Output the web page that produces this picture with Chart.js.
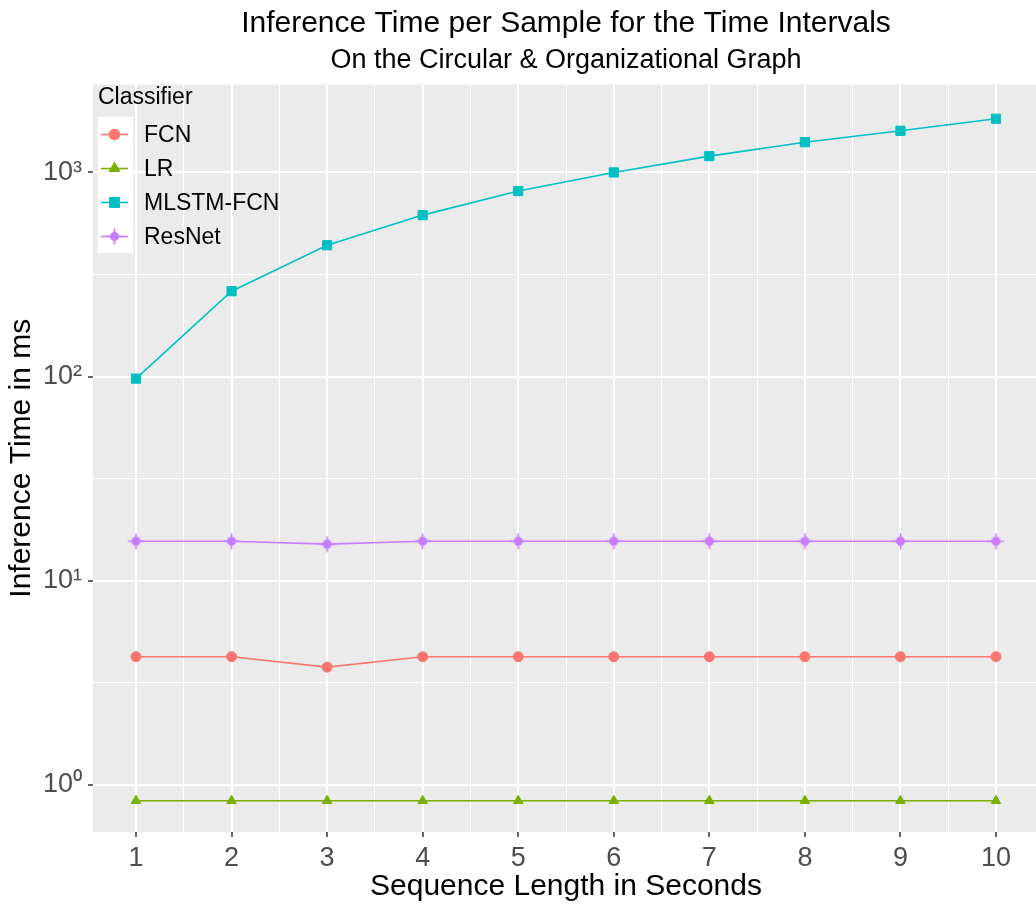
<!DOCTYPE html>
<html>
<head>
<meta charset="utf-8">
<script src="https://cdn.jsdelivr.net/npm/chart.js@4"></script>
<style>
  html, body { margin: 0; padding: 0; background: #fff; overflow: hidden; }
  #wrap { width: 1050px; height: 908px; }
</style>
</head>
<body>
<div id="wrap"><canvas id="timeChart" width="1050" height="908"></canvas></div>
<script>
// values (log scale, ms)
const seconds = [1, 2, 3, 4, 5, 6, 7, 8, 9, 10];
const fcn = [4.24, 4.24, 3.77, 4.24, 4.24, 4.24, 4.24, 4.24, 4.24, 4.24];
const lr = [0.835, 0.835, 0.835, 0.835, 0.835, 0.835, 0.835, 0.835, 0.835, 0.835];
const mlstmFcn = [97.7, 262, 440, 618, 811, 1000, 1202, 1407, 1600, 1833];
const resnet = [15.6, 15.6, 15.1, 15.6, 15.6, 15.6, 15.6, 15.6, 15.6, 15.6];

const xTicks = [1, 1.5, 2, 2.5, 3, 3.5, 4, 4.5, 5, 5.5, 6, 6.5, 7, 7.5, 8, 8.5, 9, 9.5, 10];
const yTicks = [1, 3.1623, 10, 31.623, 100, 316.23, 1000];
const supers = { 0: '\u2070', 1: '\u00B9', 2: '\u00B2', 3: '\u00B3' };

// ResNet marker: filled dot with a cross through it
function plusDot(color) {
    const c = document.createElement('canvas');
    c.width = 19; c.height = 19;
    const g = c.getContext('2d');
    g.fillStyle = color;
    g.beginPath();
    g.arc(9.5, 9.5, 4.5, 0, Math.PI * 2);
    g.fill();
    g.strokeStyle = color;
    g.lineWidth = 1.6;
    g.beginPath();
    g.moveTo(9.5, 1.5); g.lineTo(9.5, 17.5);
    g.moveTo(1.5, 9.5); g.lineTo(17.5, 9.5);
    g.stroke();
    return c;
}

const isMajorX = v => Number.isInteger(v);
const isMajorY = v => Math.abs(Math.log10(v) - Math.round(Math.log10(v))) < 1e-6;

function series(label, data, color, style, radius) {
    return {
        label: label,
        data: data.map((v, i) => ({ x: seconds[i], y: v })),
        borderColor: color,
        backgroundColor: color,
        borderWidth: 1.6,
        pointStyle: style,
        pointRadius: radius,
        pointHoverRadius: radius,
        pointBorderWidth: 1,
        tension: 0
    };
}

const panelBg = {
    id: 'panelBg',
    beforeDraw(chart) {
        const a = chart.chartArea, ctx = chart.ctx;
        ctx.save();
        ctx.fillStyle = '#EBEBEB';
        ctx.fillRect(a.left, a.top, a.right - a.left, a.bottom - a.top);
        ctx.restore();
    }
};

// legend drawn inside the panel, top-left, like the reference
const ggLegend = {
    id: 'ggLegend',
    afterDraw(chart) {
        const ctx = chart.ctx;
        ctx.save();
        ctx.fillStyle = '#000';
        ctx.font = '23px "Liberation Sans", Arial, sans-serif';
        ctx.textBaseline = 'middle';
        ctx.textAlign = 'left';
        ctx.fillText('Classifier', 98, 98);
        const sets = chart.data.datasets;
        ctx.fillStyle = '#fff';
        ctx.fillRect(98, 117, 35, 34 * sets.length);
        sets.forEach((ds, i) => {
            const cy = 134.5 + i * 34;
            ctx.strokeStyle = ds.borderColor;
            ctx.lineWidth = 1.6;
            ctx.beginPath();
            ctx.moveTo(101, cy);
            ctx.lineTo(128, cy);
            ctx.stroke();
            ctx.fillStyle = ds.backgroundColor;
            Chart.helpers.drawPoint(ctx, {
                pointStyle: ds.pointStyle, radius: ds.pointRadius, rotation: 0, borderWidth: 1
            }, 114.5, cy);
            ctx.fillStyle = '#000';
            ctx.font = '23px "Liberation Sans", Arial, sans-serif';
            ctx.fillText(ds.label, 144, cy + 1);
        });
        ctx.restore();
    }
};

const ctx = document.getElementById('timeChart').getContext('2d');
const timeChart = new Chart(ctx, {
    type: 'line',
    data: {
        datasets: [
            series('FCN', fcn, '#F8766D', 'circle', 5),
            series('LR', lr, '#7CAE00', 'triangle', 5.5),
            series('MLSTM-FCN', mlstmFcn, '#00BFC4', 'rect', 6.5),
            series('ResNet', resnet, '#C77CFF', plusDot('#C77CFF'), 5)
        ]
    },
    plugins: [panelBg, ggLegend],
    options: {
        responsive: false,
        animation: false,
        layout: { padding: { left: 0, right: 11, top: 0, bottom: 0 } },
        plugins: {
            legend: { display: false },
            tooltip: { enabled: false },
            title: {
                display: true,
                fullSize: false,
                text: 'Inference Time per Sample for the Time Intervals',
                color: '#000',
                font: { family: '"Liberation Sans", Arial, sans-serif', size: 30, weight: 'normal' },
                padding: { top: 6, bottom: 0 }
            },
            subtitle: {
                display: true,
                fullSize: false,
                text: 'On the Circular & Organizational Graph',
                color: '#000',
                font: { family: '"Liberation Sans", Arial, sans-serif', size: 27, weight: 'normal' },
                padding: { top: 2, bottom: 8 }
            }
        },
        scales: {
            x: {
                type: 'linear',
                min: 0.55,
                max: 10.45,
                afterBuildTicks: scale => { scale.ticks = xTicks.map(v => ({ value: v })); },
                afterFit: scale => { scale.height = 76; },
                border: { display: false },
                grid: {
                    color: '#FFFFFF',
                    lineWidth: c => (c.tick && isMajorX(c.tick.value)) ? 2 : 1,
                    tickColor: c => (c.tick && isMajorX(c.tick.value)) ? '#333333' : 'rgba(0,0,0,0)',
                    tickLength: 5,
                    tickWidth: 1.5
                },
                ticks: {
                    autoSkip: false,
                    maxRotation: 0,
                    padding: 5,
                    color: '#4D4D4D',
                    font: { family: '"Liberation Sans", Arial, sans-serif', size: 27 },
                    callback: v => isMajorX(v) ? String(v) : ''
                },
                title: {
                    display: true,
                    text: 'Sequence Length in Seconds',
                    color: '#000',
                    font: { family: '"Liberation Sans", Arial, sans-serif', size: 30 },
                    padding: { top: 0, bottom: 3 }
                }
            },
            y: {
                type: 'logarithmic',
                min: 0.587,
                max: 2700,
                afterBuildTicks: scale => { scale.ticks = yTicks.map(v => ({ value: v })); },
                afterFit: scale => { scale.width = 93; },
                border: { display: false },
                grid: {
                    color: '#FFFFFF',
                    lineWidth: c => (c.tick && isMajorY(c.tick.value)) ? 2 : 1,
                    tickColor: c => (c.tick && isMajorY(c.tick.value)) ? '#333333' : 'rgba(0,0,0,0)',
                    tickLength: 5,
                    tickWidth: 1.5
                },
                ticks: {
                    autoSkip: false,
                    padding: 6,
                    color: '#4D4D4D',
                    font: { family: '"Liberation Sans", Arial, sans-serif', size: 27 },
                    callback: v => isMajorY(v) ? '10' + supers[Math.round(Math.log10(v))] : ''
                },
                title: {
                    display: true,
                    text: 'Inference Time in ms',
                    color: '#000',
                    font: { family: '"Liberation Sans", Arial, sans-serif', size: 30 },
                    padding: { top: 4, bottom: 0 }
                }
            }
        }
    }
});
</script>
</body>
</html>
